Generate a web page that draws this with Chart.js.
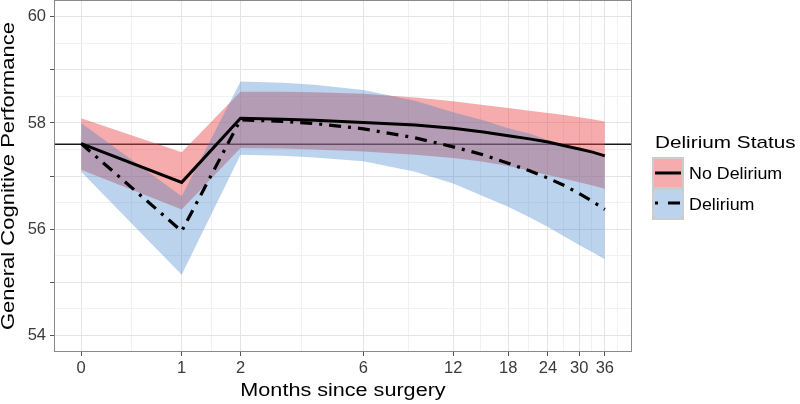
<!DOCTYPE html>
<html>
<head>
<meta charset="utf-8">
<script src="https://cdn.jsdelivr.net/npm/chart.js@4.4.1/dist/chart.umd.min.js"></script>
<style>
  html, body { margin: 0; padding: 0; background: #fff; }
  #wrap { position: relative; width: 800px; height: 404px; }
</style>
</head>
<body>
<div id="wrap"><canvas id="myChart" width="800" height="404"></canvas></div>
<script>
const months = [0, 1, 2, 3, 4, 6, 9, 12, 15, 18, 21, 24, 27, 30, 33, 36];

// No Delirium
const noDelMean  = [57.61, 56.88, 58.09, 58.07, 58.05, 58.01, 57.96, 57.90, 57.83, 57.76, 57.70, 57.64, 57.57, 57.51, 57.45, 57.38];
const noDelUpper = [58.09, 57.45, 58.59, 58.59, 58.58, 58.55, 58.48, 58.41, 58.34, 58.28, 58.23, 58.19, 58.15, 58.11, 58.07, 58.03];
const noDelLower = [57.12, 56.37, 57.53, 57.52, 57.50, 57.46, 57.40, 57.34, 57.27, 57.19, 57.10, 57.02, 56.95, 56.88, 56.82, 56.76];

// Delirium
const delMean  = [57.61, 55.96, 58.06, 58.03, 57.99, 57.89, 57.72, 57.55, 57.40, 57.24, 57.10, 56.96, 56.82, 56.67, 56.52, 56.37];
const delUpper = [58.00, 56.62, 58.78, 58.76, 58.72, 58.62, 58.42, 58.20, 58.05, 57.90, 57.80, 57.68, 57.58, 57.50, 57.43, 57.36];
const delLower = [57.08, 55.14, 57.40, 57.38, 57.35, 57.28, 57.08, 56.86, 56.62, 56.42, 56.22, 56.04, 55.86, 55.70, 55.56, 55.43];

const refLine = 57.6;

const xBreaks = [0, 1, 2, 6, 12, 18, 24, 30, 36];
const yBreaks = [54, 55, 56, 57, 58, 59, 60];
const yLabels = ['54', '', '56', '', '58', '', '60'];

const xTitle = 'Months since surgery';
const yTitle = 'General Cognitive Performance';
const legendTitle = 'Delirium Status';
const legendLabels = ['No Delirium', 'Delirium'];

const redFill = 'rgba(235, 70, 70, 0.45)';
const blueFill = 'rgba(60, 130, 200, 0.35)';
const FONT = '"Liberation Sans", Arial, sans-serif';

// x axis is log(months + 1)
const tx = m => Math.log(m + 1);
const span = tx(36) - tx(0);
const xMin = tx(0) - 0.05 * span;
const xMax = tx(36) + 0.05 * span;

// major + minor (midpoint) ticks on the transformed axis
const xTicks = [];
xBreaks.forEach((b, i) => {
  xTicks.push({ value: tx(b), label: String(b), major: true });
  if (i < xBreaks.length - 1) {
    xTicks.push({ value: (tx(b) + tx(xBreaks[i + 1])) / 2, label: '', major: false });
  }
});
xTicks.push({ value: tx(36) + (tx(36) - tx(30)) / 2, label: '', major: false });

const yTicks = [];
yBreaks.forEach((b, i) => {
  yTicks.push({ value: b, label: yLabels[i], major: true });
  if (i < yBreaks.length - 1) yTicks.push({ value: b + 0.5, label: '', major: false });
});

const pts = arr => months.map((m, i) => ({ x: tx(m), y: arr[i] }));

const band = (data, color, fill, order) => ({
  data, fill, backgroundColor: color, borderWidth: 0, pointRadius: 0, order
});

const extras = {
  id: 'extras',
  afterDraw(chart) {
    const { ctx, chartArea: a } = chart;
    ctx.save();
    // panel border
    ctx.strokeStyle = '#8a8a8a';
    ctx.lineWidth = 1;
    ctx.strokeRect(Math.round(a.left) - 0.5, Math.round(a.top) - 0.5,
      Math.round(a.right - a.left) + 1, Math.round(a.bottom - a.top) + 1);

    // axis titles
    ctx.fillStyle = '#000';
    ctx.textAlign = 'center';
    ctx.textBaseline = 'alphabetic';
    ctx.font = '18px ' + FONT;
    ctx.save();
    ctx.translate((a.left + a.right) / 2, 396);
    ctx.scale(1.2, 1);
    ctx.fillText(xTitle, 0, 0);
    ctx.restore();

    ctx.save();
    ctx.translate(14, (a.top + a.bottom) / 2);
    ctx.rotate(-Math.PI / 2);
    ctx.scale(1, 0.85);
    ctx.font = '22px ' + FONT;
    ctx.fillText(yTitle, 0, 0);
    ctx.restore();

    // legend
    ctx.textAlign = 'left';
    ctx.save();
    ctx.translate(655, 148);
    ctx.scale(1.22, 1);
    ctx.font = '17px ' + FONT;
    ctx.fillText(legendTitle, 0, 0);
    ctx.restore();

    ctx.fillStyle = '#cccccc';
    ctx.fillRect(652, 157, 32, 63);
    ctx.fillStyle = '#fff';
    ctx.fillRect(654, 159, 28, 28);
    ctx.fillRect(654, 190, 28, 28);
    ctx.fillStyle = redFill;
    ctx.fillRect(654, 159, 28, 28);
    ctx.fillStyle = blueFill;
    ctx.fillRect(654, 190, 28, 28);

    ctx.strokeStyle = '#000';
    ctx.lineWidth = 3;
    ctx.beginPath(); ctx.moveTo(655, 173); ctx.lineTo(681, 173); ctx.stroke();
    ctx.setLineDash([3, 10, 12, 7]);
    ctx.beginPath(); ctx.moveTo(655, 203); ctx.lineTo(681, 203); ctx.stroke();
    ctx.setLineDash([]);

    ctx.fillStyle = '#000';
    ctx.font = '17px ' + FONT;
    ctx.save(); ctx.translate(689, 179); ctx.scale(1.05, 1); ctx.fillText(legendLabels[0], 0, 0); ctx.restore();
    ctx.save(); ctx.translate(689, 210); ctx.scale(1.05, 1); ctx.fillText(legendLabels[1], 0, 0); ctx.restore();
    ctx.restore();
  }
};

new Chart(document.getElementById('myChart'), {
  type: 'line',
  data: {
    datasets: [
      band(pts(noDelUpper), redFill, '+1', 4),
      band(pts(noDelLower), redFill, false, 4),
      band(pts(delUpper), blueFill, '+1', 3),
      band(pts(delLower), blueFill, false, 3),
      {
        data: [{ x: xMin, y: refLine }, { x: xMax, y: refLine }],
        borderColor: '#1a1a1a', borderWidth: 1.6, pointRadius: 0, fill: false, order: 5
      },
      {
        label: legendLabels[0], data: pts(noDelMean),
        borderColor: '#000', borderWidth: 3, pointRadius: 0, fill: false, order: 1
      },
      {
        label: legendLabels[1], data: pts(delMean),
        borderColor: '#000', borderWidth: 3.2, borderDash: [12, 7, 3, 7],
        pointRadius: 0, fill: false, order: 0
      }
    ]
  },
  options: {
    responsive: false,
    animation: false,
    layout: { padding: { left: 0, right: 169, top: 1, bottom: 0 } },
    plugins: { legend: { display: false }, tooltip: { enabled: false } },
    scales: {
      x: {
        type: 'linear', min: xMin, max: xMax,
        afterBuildTicks: s => { s.ticks = xTicks.map(t => ({ value: t.value })); },
        afterFit: s => { s.height = 53; s.paddingLeft = 0; s.paddingRight = 0; },
        border: { display: false },
        grid: {
          color: c => (xTicks[c.index] && xTicks[c.index].major) ? '#e4e4e4' : '#f1f1f1',
          tickColor: c => (xTicks[c.index] && xTicks[c.index].major) ? '#555' : 'rgba(0,0,0,0)',
          tickLength: 5
        },
        ticks: {
          autoSkip: false, maxRotation: 0, padding: 3, color: '#3a3a3a',
          font: { size: 16.5, family: FONT },
          callback: (v, i) => xTicks[i] ? xTicks[i].label : ''
        }
      },
      y: {
        type: 'linear', min: 53.7, max: 60.3,
        afterBuildTicks: s => { s.ticks = yTicks.map(t => ({ value: t.value })); },
        afterFit: s => { s.width = 55; s.paddingTop = 0; s.paddingBottom = 0; },
        border: { display: false },
        grid: {
          color: c => (yTicks[c.index] && yTicks[c.index].major) ? '#e4e4e4' : '#f1f1f1',
          tickColor: c => (yTicks[c.index] && yTicks[c.index].major) ? '#555' : 'rgba(0,0,0,0)',
          tickLength: 5
        },
        ticks: {
          autoSkip: false, padding: 4, color: '#3a3a3a',
          font: { size: 16.5, family: FONT },
          callback: (v, i) => yTicks[i] ? yTicks[i].label : ''
        }
      }
    }
  },
  plugins: [extras]
});
</script>
</body>
</html>
